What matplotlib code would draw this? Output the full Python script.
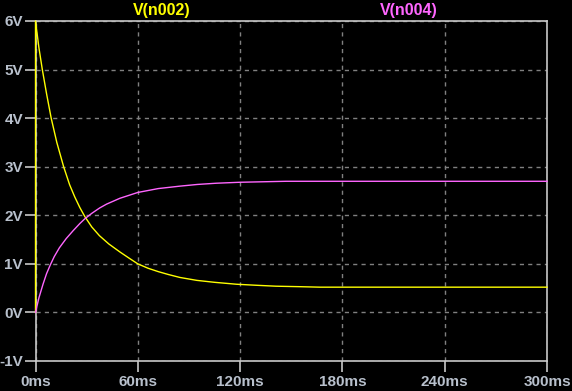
import matplotlib
matplotlib.use("Agg")
import matplotlib.pyplot as plt
from matplotlib.ticker import FixedLocator

# Data (time in ms, voltage in V)
t_n002 = [0, 0, 2.0, 4.0, 6.5, 9.2, 12.5, 16.5, 20.0, 23.0, 26.0, 29.0, 33.0,
          37.5, 43.0, 49.5, 55.0, 60.0, 66.0, 72.0, 78.0, 84.7, 94.6, 105.0,
          118.0, 129.0, 141.0, 155.0, 167.0, 300.0]
v_n002 = [0.0, 6.0, 5.45, 5.0, 4.5, 4.0, 3.5, 3.0, 2.63, 2.38, 2.16, 1.97, 1.76,
          1.58, 1.41, 1.245, 1.115, 1.0, 0.91, 0.84, 0.78, 0.72, 0.66, 0.62,
          0.58, 0.56, 0.54, 0.53, 0.52, 0.52]

t_n004 = [0, 2.0, 4.4, 6.5, 8.7, 11.0, 14.0, 18.0, 22.0, 26.0, 29.0, 33.0,
          37.6, 41.7, 49.5, 60.0, 72.0, 84.7, 95.0, 106.0, 120.0, 147.0, 300.0]
v_n004 = [0.0, 0.3, 0.58, 0.80, 0.98, 1.15, 1.33, 1.52, 1.68, 1.83, 1.93, 2.04,
          2.15, 2.23, 2.35, 2.47, 2.55, 2.60, 2.635, 2.66, 2.68, 2.70, 2.70]

x_ticks = [0, 60, 120, 180, 240, 300]
x_labels = ["0ms", "60ms", "120ms", "180ms", "240ms", "300ms"]
y_ticks = [-1, 0, 1, 2, 3, 4, 5, 6]
y_labels = ["-1V", "0V", "1V", "2V", "3V", "4V", "5V", "6V"]

series_names = ["V(n002)", "V(n004)"]
series_colors = ["#ffff00", "#ff66ff"]

plt.rcParams['font.family'] = ['Liberation Sans', 'DejaVu Sans']

fig = plt.figure(figsize=(5.72, 3.91), dpi=100, facecolor="black")
ax = fig.add_axes([35.5 / 572, 1 - 361 / 391, (547 - 35.5) / 572, (361 - 21) / 391])
ax.set_facecolor("black")

ax.plot(t_n002, v_n002, color=series_colors[0], lw=1.0, zorder=3, clip_on=False)
ax.plot(t_n004, v_n004, color=series_colors[1], lw=1.0, zorder=3, clip_on=False)

ax.set_xlim(0, 300)
ax.set_ylim(-1, 6)
ax.xaxis.set_major_locator(FixedLocator(x_ticks))
ax.yaxis.set_major_locator(FixedLocator(y_ticks))
ax.set_xticklabels(x_labels)
ax.set_yticklabels(y_labels)

ax.grid(True, color="#808080", linestyle=(0, (3, 3)), linewidth=1.0)
for s in ax.spines.values():
    s.set_color("#c8c8c8")
    s.set_linewidth(1.2)

label_color = "#b8c0cc"
ax.tick_params(axis="both", colors="#c8c8c8", length=8, width=1.2, direction="out",
               labelcolor=label_color, labelsize=11)
ax.tick_params(axis="y", pad=1)
ax.tick_params(axis="x", pad=2)
for lbl in ax.get_xticklabels() + ax.get_yticklabels():
    lbl.set_fontweight("bold")

fig.text(162 / 572, 1 - 11 / 391, series_names[0], color=series_colors[0],
         fontsize=11.5, fontweight="bold", ha="center", va="center")
fig.text(409 / 572, 1 - 11 / 391, series_names[1], color=series_colors[1],
         fontsize=11.5, fontweight="bold", ha="center", va="center")

fig.savefig("out.png", dpi=100, facecolor="black")
